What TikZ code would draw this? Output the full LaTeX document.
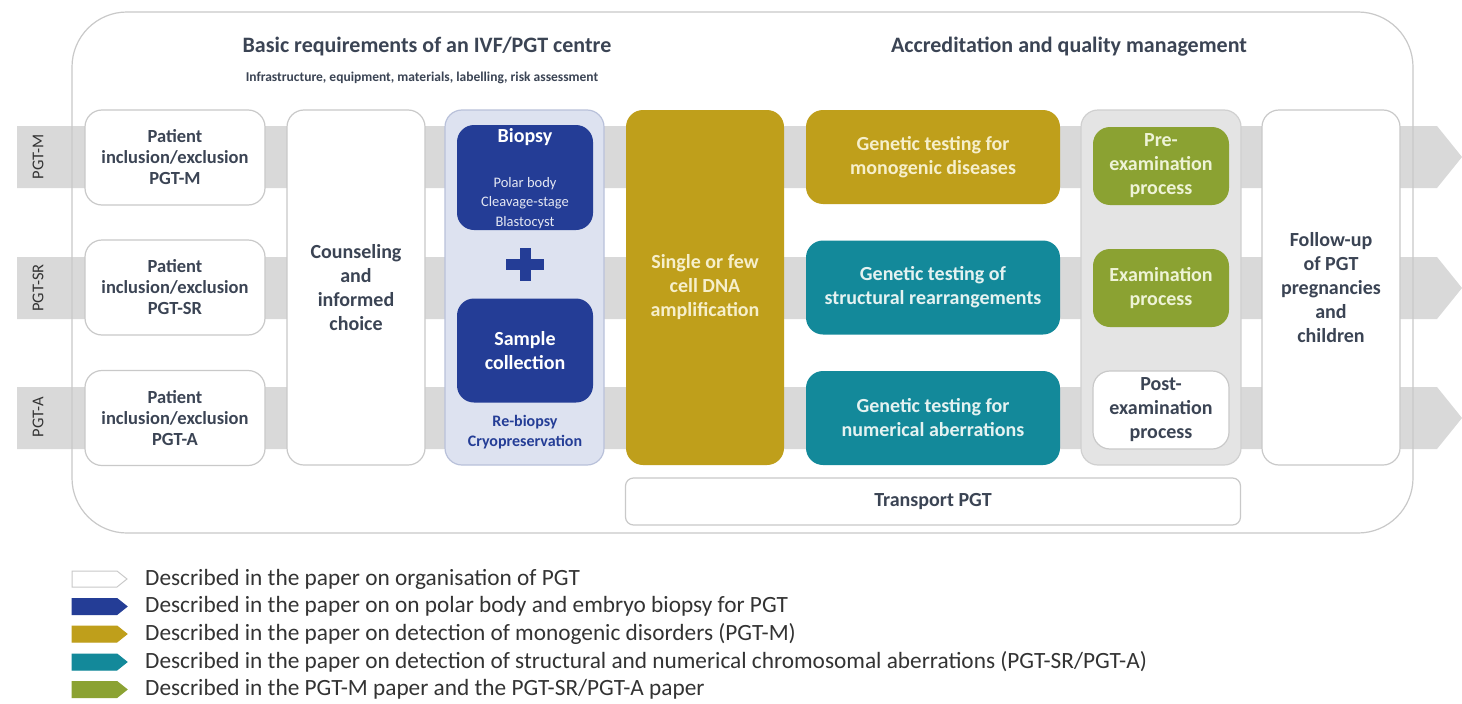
\documentclass[tikz,border=0pt]{standalone}
\usepackage{fontspec}
\setmainfont{Carlito}
\definecolor{ink}{HTML}{3B4454}
\definecolor{edge}{HTML}{C9C9C9}
\definecolor{band}{HTML}{D9D9D9}
\definecolor{navy}{HTML}{243D96}
\definecolor{lav}{HTML}{DDE2F0}
\definecolor{lavedge}{HTML}{B9C1DA}
\definecolor{gold}{HTML}{BF9F1B}
\definecolor{teal}{HTML}{13899A}
\definecolor{leaf}{HTML}{8BA232}
\definecolor{qgrey}{HTML}{E4E4E4}
\definecolor{qedge}{HTML}{D0D0D0}
\definecolor{cream}{HTML}{F6EFCB}
\definecolor{mint}{HTML}{E4F2F1}
\definecolor{pale}{HTML}{EEF3D6}
\definecolor{legendink}{HTML}{333333}
\begin{document}
\begin{tikzpicture}[x=1pt,y=-1pt,
  base/.style={rounded corners=17pt, outer sep=0pt, inner sep=0pt, align=center,
    font=\bfseries\fontsize{20}{24}\selectfont},
  whitebox/.style={base, draw=edge, fill=white, line width=1.2pt, text=ink},
  patient/.style={whitebox, minimum width=180, minimum height=95,
    font=\bfseries\fontsize{18.5}{21}\selectfont},
  tallbox/.style={whitebox, minimum width=138, minimum height=355},
  navybox/.style={base, fill=navy, text=white, minimum width=136},
  goldbox/.style={base, fill=gold, text=cream},
  tealbox/.style={base, fill=teal, text=mint},
  leafbox/.style={base, fill=leaf, text=pale},
  qbox/.style={minimum width=136, minimum height=78},
  bandlabel/.style={rotate=90, text=legendink, font=\fontsize{16.5}{18}\selectfont},
  heading/.style={text=ink, font=\bfseries\fontsize{22}{26}\selectfont},
  legendtext/.style={anchor=west, inner sep=0pt, text=legendink,
    font=\fontsize{23.3}{26}\selectfont},
]
\useasboundingbox (0,0) rectangle (1462,704);
\fill[white] (0,0) rectangle (1462,704);

% outer frame
\node[rounded corners=55pt, fill=white, minimum width=1341, minimum height=521,
  outer sep=0pt, inner sep=0pt] (frame) at (742.5,272.5) {};

% the three process lanes
\foreach \yc in {157,288,418}{
  \fill[band] (17,\yc-31) -- (1437,\yc-31) -- (1462,\yc) -- (1437,\yc+31)
    -- (17,\yc+31) -- cycle;
}
\draw[edge, line width=1.2pt, rounded corners=55pt] (72,12) rectangle (1413,533);

\node[bandlabel] (lm) at (38,157) {PGT-M};
\node[bandlabel] (lsr) at (38,288) {PGT-SR};
\node[bandlabel] (la) at (38,417) {PGT-A};

% headings
\node[heading] (h1) at (427,47) {Basic requirements of an IVF/PGT centre};
\node[text=ink, font=\bfseries\fontsize{13.5}{16}\selectfont] (h1s) at (422,78)
  {Infrastructure, equipment, materials, labelling, risk assessment};
\node[heading] (h2) at (1069,47) {Accreditation and quality management};

% patient selection
\node[patient] (pm) at (175,157.5) {Patient\\inclusion/exclusion\\PGT-M};
\node[patient] (psr) at (175,287.5) {Patient\\inclusion/exclusion\\PGT-SR};
\node[patient] (pa) at (175,418) {Patient\\inclusion/exclusion\\PGT-A};

% counseling
\node[tallbox] (couns) at (356,287.5) {Counseling\\and\\informed\\choice};

% biopsy column
\node[base, draw=lavedge, fill=lav, line width=1.2pt, minimum width=159,
  minimum height=355] (biocol) at (524.5,287.5) {};
\node[navybox, minimum height=105] (biopsy) at (525,177.5) {};
\node[text=white, font=\bfseries\fontsize{20}{24}\selectfont] (biot) at (525,137) {Biopsy};
\node[text=white!88!navy, align=center, font=\fontsize{14.5}{19.5}\selectfont]
  (biosub) at (525,203) {Polar body\\Cleavage-stage\\Blastocyst};
\node[navybox, minimum height=104] (sample) at (525,350.5) {Sample\\collection};
\fill[navy] (506,259) rectangle (544,270);
\fill[navy] (519.5,248) rectangle (530.5,281);
\node[text=navy, align=center, font=\bfseries\fontsize{16}{20}\selectfont]
  (rebio) at (525,432) {Re-biopsy\\Cryopreservation};

% amplification
\node[goldbox, minimum width=158, minimum height=355] (ampl) at (705,287.5)
  {Single or few\\cell DNA\\amplification};

% genetic testing
\node[goldbox, minimum width=254, minimum height=94] (mono) at (933,157)
  {Genetic testing for\\monogenic diseases};
\node[tealbox, minimum width=254, minimum height=94] (struct) at (933,287.5)
  {Genetic testing of\\structural rearrangements};
\node[tealbox, minimum width=254, minimum height=94] (numer) at (933,418)
  {Genetic testing for\\numerical aberrations};

% quality column
\node[base, draw=qedge, fill=qgrey, line width=1.2pt, minimum width=160,
  minimum height=355] (qcol) at (1161,287.5) {};
\node[leafbox, qbox] (pre) at (1161,166) {Pre-\\examination\\process};
\node[leafbox, qbox] (exam) at (1161,288) {Examination\\process};
\node[whitebox, qbox] (post) at (1161,410) {Post-\\examination\\process};

% follow-up
\node[tallbox] (follow) at (1331,287.5) {Follow-up\\of PGT\\pregnancies\\and\\children};

% transport
\node[whitebox, rounded corners=8pt, minimum width=615, minimum height=47] (trans)
  at (933,501.5) {Transport PGT};

% legend
\foreach \yc/\fc/\dc in {579/white/edge, 606.5/navy/navy, 634/gold/gold,
    662/teal/teal, 689.5/leaf/leaf}{
  \filldraw[fill=\fc, draw=\dc, line width=1pt] (72,\yc-8) -- (117,\yc-8) -- (127,\yc)
    -- (117,\yc+8) -- (72,\yc+8) -- cycle;
}
\node[legendtext] (t1) at (145,579) {Described in the paper on organisation of PGT};
\node[legendtext] (t2) at (145,606.5) {Described in the paper on on polar body and embryo biopsy for PGT};
\node[legendtext] (t3) at (145,634) {Described in the paper on detection of monogenic disorders (PGT-M)};
\node[legendtext] (t4) at (145,662) {Described in the paper on detection of structural and numerical chromosomal aberrations (PGT-SR/PGT-A)};
\node[legendtext] (t5) at (145,689.5) {Described in the PGT-M paper and the PGT-SR/PGT-A paper};
\end{tikzpicture}
\end{document}
